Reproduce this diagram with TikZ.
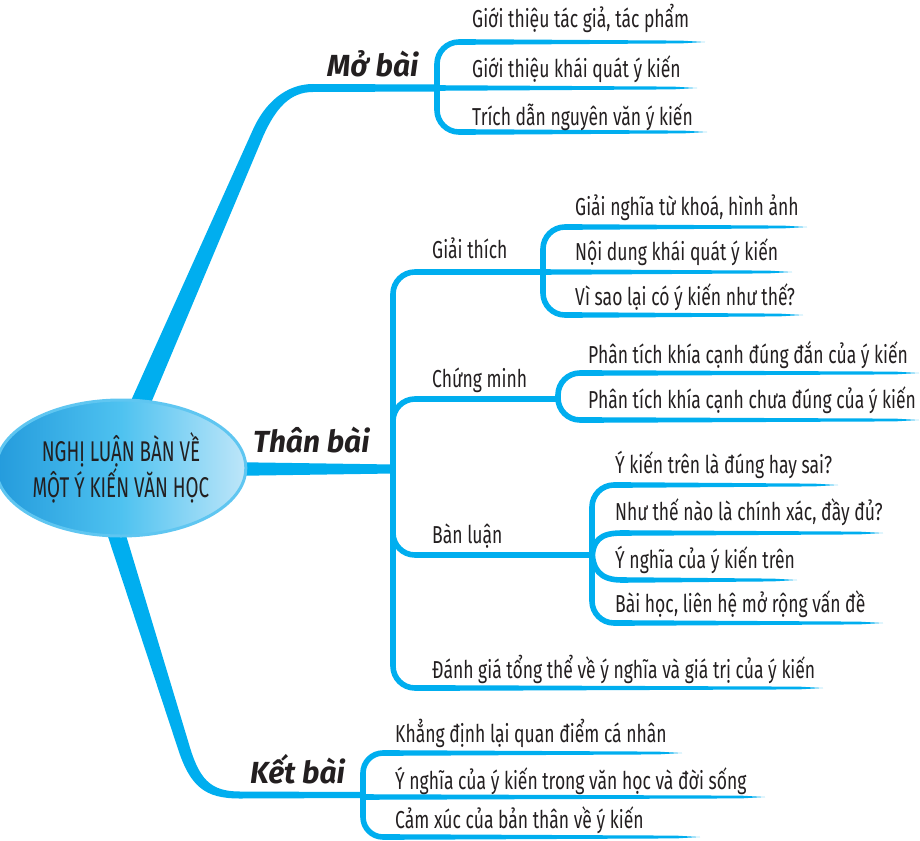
\documentclass[tikz,border=0pt]{standalone}
\usepackage{fontspec}
\setmainfont{Fira Sans}[FakeStretch=0.715]
\newfontfamily\labfont{Fira Sans}[FakeStretch=0.98]
\newfontfamily\corefont{Fira Sans}[FakeStretch=0.66]
\usetikzlibrary{shapes.geometric,calc}
\definecolor{branch}{RGB}{0,174,239}
\definecolor{ink}{RGB}{35,31,32}
\definecolor{ellL}{RGB}{36,155,220}
\definecolor{ellM}{RGB}{78,194,240}
\definecolor{ellR}{RGB}{190,230,249}
\definecolor{ellB}{RGB}{95,198,241}
% tapered underline from #1 to the tip #2
\newcommand\tail[2]{\fill[branch] ($(#1)+(0,-2.8)$) -- ($(#2)+(-24,-1.4)$) -- (#2) -- ($(#2)+(-24,1.4)$) -- ($(#1)+(0,2.8)$) -- cycle;}
\begin{document}
\begin{tikzpicture}[x=1pt,y=-1pt,
  sub/.style={draw=branch,line width=5.6pt,line cap=butt},
  txt/.style={anchor=base west,inner sep=0pt,text=ink,font=\fontsize{24.5}{28}\selectfont},
  lab/.style={anchor=base west,inner sep=0pt,text=ink,font=\labfont\fontsize{30.5}{34}\selectfont\bfseries\itshape}]
\useasboundingbox (0,0) rectangle (920,840);

% ---------- main branches (tapered) ----------
% Mo bai
\fill[branch] (125,414) -- (252.5,130.6) .. controls (264.5,103) and (286,84) .. (313,84) -- (437,84.5)
  -- (437,91.5) -- (313,92) .. controls (290,92) and (276,108) .. (263.5,135.4) -- (143,422) -- cycle;
% Than bai
\fill[branch] (225,462) -- (394,464.5) -- (394,473.5) -- (225,476) -- cycle;
% Ket bai
\fill[branch] (120.6,517.3) -- (188.7,743.2) .. controls (199,779) and (210,791.5) .. (240,791.5) -- (363,792)
  -- (363,798) -- (240,798.5) .. controls (205,798.5) and (190,787) .. (177.3,746.8) -- (103.4,522.7) -- cycle;

% ---------- central node ----------
\node[ellipse,minimum width=226pt,minimum height=136pt,inner sep=0pt,
      left color=ellL,right color=ellR,middle color=ellM,draw=ellB,line width=3pt,
      align=center,text=ink,font=\corefont\fontsize{28.5}{26.5}\selectfont] (core) at (121,468)
  {NGHỊ LUẬN BÀN VỀ\\MỘT Ý KIẾN VĂN HỌC};

% ---------- Mo bai ----------
\node[lab] (mb) at (327,77) {Mở bài};
\coordinate (mbJ) at (437,88);
\draw[sub,rounded corners=22pt] (468,42) -- (437,42) -- (437,132) -- (468,132);
\coordinate (mbA) at (468,42);
\coordinate (mbC) at (468,132);
\coordinate (mbAe) at (705,42);
\coordinate (mbBe) at (697,88);
\coordinate (mbCe) at (707,132);
\tail{mbA}{mbAe}
\tail{mbJ}{mbBe}
\tail{mbC}{mbCe}
\node[txt] (mb1) at (472,28) {Giới thiệu tác giả, tác phẩm};
\node[txt] (mb2) at (472,78) {Giới thiệu khái quát ý kiến};
\node[txt] (mb3) at (472,125) {Trích dẫn nguyên văn ý kiến};

% ---------- Than bai ----------
\node[lab] (tb) at (253,452) {Thân bài};
\draw[sub,rounded corners=22pt] (543,272) -- (393,272) -- (393,688) -- (445,688);
\coordinate (dgA) at (445,688);
\coordinate (dgE) at (823,688);
\tail{dgA}{dgE}

% Giai thich
\node[txt] (gt) at (432,258) {Giải thích};
\draw[sub,rounded corners=22pt] (575,227) -- (543,227) -- (543,315) -- (575,315);
\coordinate (gtJ) at (543,272);
\coordinate (gtA) at (575,227);
\coordinate (gtC) at (575,315);
\coordinate (gtAe) at (807,227);
\coordinate (gtBe) at (792,272);
\coordinate (gtCe) at (803,315);
\tail{gtA}{gtAe}
\tail{gtJ}{gtBe}
\tail{gtC}{gtCe}
\node[txt] (gt1) at (575,215) {Giải nghĩa từ khoá, hình ảnh};
\node[txt] (gt2) at (575,260) {Nội dung khái quát ý kiến};
\node[txt] (gt3) at (575,305) {Vì sao lại có ý kiến như thế?};

% Chung minh
\node[txt] (cm) at (432,387) {Chứng minh};
\draw[sub,rounded corners=22pt] (393,440) -- (393,399) -- (558,399);
\draw[sub,rounded corners=22pt] (592,373) -- (558,373) -- (558,420) -- (592,420);
\coordinate (cmA) at (592,373);
\coordinate (cmB) at (592,420);
\coordinate (cmAe) at (919,373);
\coordinate (cmBe) at (919,420);
\tail{cmA}{cmAe}
\tail{cmB}{cmBe}
\node[txt] (cm1) at (588,363) {Phân tích khía cạnh đúng đắn của ý kiến};
\node[txt] (cm2) at (588,408) {Phân tích khía cạnh chưa đúng của ý kiến};

% Ban luan
\node[txt] (bl) at (432,543) {Bàn luận};
\draw[sub,rounded corners=22pt] (393,515) -- (393,555) -- (592,555);
\draw[sub,rounded corners=22pt] (625,485) -- (592,485) -- (592,623) -- (625,623);
\draw[sub] (592,562) .. controls (592,540) and (600,533) .. (622,533);
\draw[sub] (592,548) .. controls (592,570) and (600,580) .. (622,580);
\coordinate (blA) at (625,485);
\coordinate (blB) at (622,533);
\coordinate (blC) at (622,580);
\coordinate (blD) at (625,623);
\coordinate (blAe) at (838,485);
\coordinate (blBe) at (883,533);
\coordinate (blCe) at (797,580);
\coordinate (blDe) at (883,623);
\tail{blA}{blAe}
\tail{blB}{blBe}
\tail{blC}{blCe}
\tail{blD}{blDe}
\node[txt] (bl1) at (615,473) {Ý kiến trên là đúng hay sai?};
\node[txt] (bl2) at (615,520) {Như thế nào là chính xác, đầy đủ?};
\node[txt] (bl3) at (615,568) {Ý nghĩa của ý kiến trên};
\node[txt] (bl4) at (615,612) {Bài học, liên hệ mở rộng vấn đề};

\node[txt] (dg) at (432,678) {Đánh giá tổng thể về ý nghĩa và giá trị của ý kiến};

% ---------- Ket bai ----------
\node[lab] (kb) at (250,783) {Kết bài};
\draw[sub,rounded corners=20pt] (392,753) -- (363,753) -- (363,837) -- (392,837);
\coordinate (kbJ) at (363,797);
\coordinate (kbA) at (392,753);
\coordinate (kbC) at (392,837);
\coordinate (kbAe) at (682,753);
\coordinate (kbBe) at (765,797);
\coordinate (kbCe) at (700,837);
\tail{kbA}{kbAe}
\tail{kbJ}{kbBe}
\tail{kbC}{kbCe}
\node[txt] (kb1) at (395,742) {Khẳng định lại quan điểm cá nhân};
\node[txt] (kb2) at (395,789) {Ý nghĩa của ý kiến trong văn học và đời sống};
\node[txt] (kb3) at (395,828) {Cảm xúc của bản thân về ý kiến};
\end{tikzpicture}
\end{document}
